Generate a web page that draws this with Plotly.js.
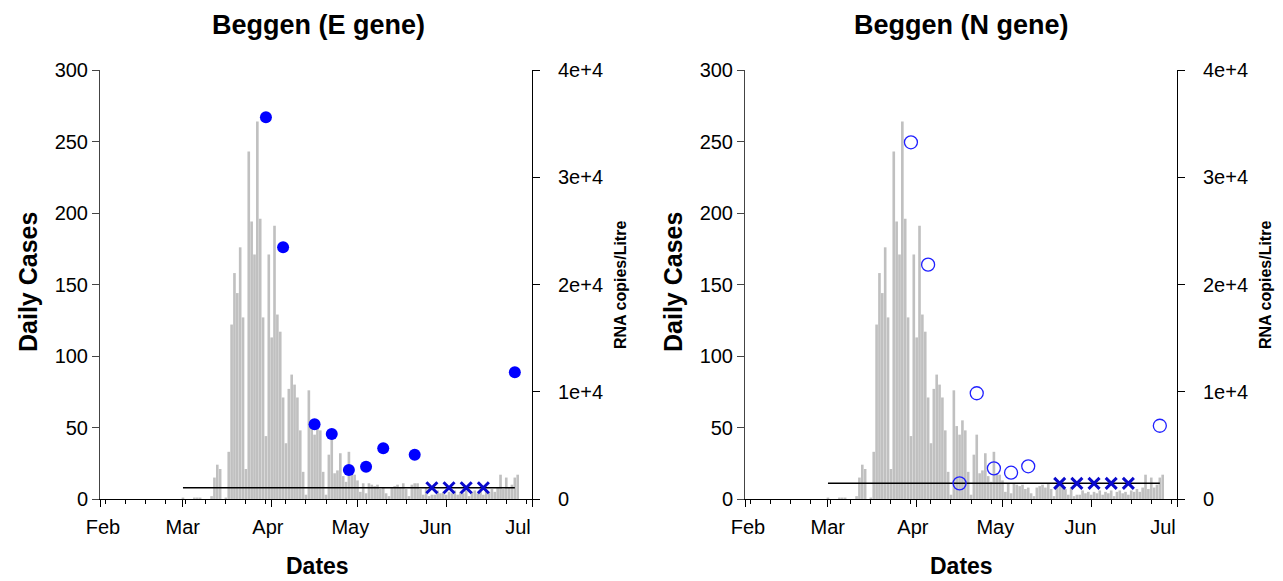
<!DOCTYPE html>
<html>
<head>
<meta charset="utf-8">
<script src="https://cdn.plot.ly/plotly-3.0.1.min.js"></script>
<style>html,body{margin:0;padding:0;background:#fff;}#chart{width:1283px;height:581px;}</style>
</head>
<body>
<div id="chart"></div>
<script>
// ---- data ----
const caseStartDate = '2020-03-01';
const dailyCases = [
  1,0,0,0,1,1,1,0,0,0,2,15,24,21,0,1,33,122,158,144,176,127,21,243,194,171,264,196,127,44,
  171,113,191,129,117,71,39,77,87,80,71,48,19,3,76,51,45,55,48,19,3,31,45,18,20,32,
  16,12,33,18,17,13,5,11,4,11,10,9,10,7,8,4,2,8,9,10,8,11,7,2,10,11,11,7,3,8,2,3,3,6,
  4,5,3,5,4,6,3,5,4,6,2,5,6,4,5,3,6,5,7,5,8,17,7,15,8,10,15,17
];
const monthTicks = ['2020-02-01','2020-03-01','2020-04-01','2020-05-01','2020-06-01','2020-07-01'];
const monthLabels = ['Feb','Mar','Apr','May','Jun','Jul'];
const caseTicks = [0,50,100,150,200,250,300];
const rnaTicks = [0,10000,20000,30000,40000];
const rnaTickLabels = ['0','1e+4','2e+4','3e+4','4e+4'];

const eDetDates = ['2020-03-30','2020-04-05','2020-04-16','2020-04-22','2020-04-28','2020-05-04','2020-05-10','2020-05-21','2020-06-25'];
const eDetValues = [35600,23470,6960,6060,2700,3010,4730,4130,11810];
const eNdDates = ['2020-05-27','2020-06-02','2020-06-08','2020-06-14'];
const eNdValues = [1050,1050,1050,1050];
const eLodDates = ['2020-03-01','2020-06-25'];
const eLodValues = [1050,1050];

const nDetDates = ['2020-03-30','2020-04-05','2020-04-16','2020-04-22','2020-04-28','2020-05-04','2020-05-10','2020-06-25'];
const nDetValues = [33260,21850,1460,9860,2860,2450,3050,6830];
const nNdDates = ['2020-05-21','2020-05-27','2020-06-02','2020-06-08','2020-06-14'];
const nNdValues = [1460,1460,1460,1460,1460];
const nLodDates = ['2020-03-01','2020-06-25'];
const nLodValues = [1460,1460];

// ---- build ----
const caseDates = dailyCases.map((_, i) => {
  const d = new Date(caseStartDate + 'T00:00:00Z');
  d.setUTCDate(d.getUTCDate() + i);
  return d.toISOString().slice(0, 10);
});

const W = 1283, H = 581;
const px = v => v / W;
const py = v => 1 - v / H;
const FONT = 'Liberation Sans, Arial, sans-serif';
const TICK = 20;

function panel(xa, ya, ya2, xl, detDates, detVals, ndDates, ndVals, lodD, lodV, filled) {
  return [
    {type:'bar', x: caseDates, y: dailyCases, xaxis: xa, yaxis: ya,
     marker:{color:'#c0c0c0', line:{width:0}}, hoverinfo:'skip'},
    {type:'scatter', mode:'lines', x: lodD, y: lodV, xaxis: xa, yaxis: ya2,
     line:{color:'#000', width:1.5}, hoverinfo:'skip'},
    {type:'scatter', mode:'markers', x: detDates, y: detVals, xaxis: xa, yaxis: ya2,
     marker: filled ? {color:'#0000ff', size:12, line:{width:0}}
                    : {color:'#2020ff', size:13, symbol:'circle-open', line:{color:'#2020ff', width:1.3}}},
    {type:'scatter', mode:'markers', x: ndDates, y: ndVals, xaxis: xa, yaxis: ya2,
     marker:{symbol:'x-thin', size:11, color:'#0a0acc', line:{color:'#0a0acc', width:3}}},
    {type:'scatter', mode:'markers', x: monthTicks, y: monthTicks.map(()=>0), xaxis: xl, yaxis: ya,
     marker:{opacity:0}, hoverinfo:'skip'}
  ];
}

const data = [].concat(
  panel('x','y','y2','x3', eDetDates, eDetValues, eNdDates, eNdValues, eLodDates, eLodValues, true),
  panel('x2','y3','y4','x4', nDetDates, nDetValues, nNdDates, nNdValues, nLodDates, nLodValues, false)
);

const yDom = [py(499), py(70)];
function dataX(dom, anchor) {
  return {domain: dom, anchor: anchor, type:'date', range:['2020-02-01','2020-07-01'],
    showgrid:false, zeroline:false, showline:true, linecolor:'#000', linewidth:1,
    tickvals: monthTicks, ticks:'outside', ticklen:7, tickcolor:'#000', showticklabels:false,
    minor:{ticks:'outside', ticklen:4, tickcolor:'#000', dtick:7*86400000, tick0:'2020-02-03'}};
}
function labelX(over, anchor) {
  return {overlaying: over, anchor: anchor, type:'date',
    range:['2020-01-30 21:50','2020-07-06 02:30'],
    showgrid:false, zeroline:false, showline:false,
    tickvals: monthTicks, ticktext: monthLabels, ticks:'outside', ticklen:10, tickcolor:'rgba(0,0,0,0)',
    tickfont:{family:FONT, size:TICK, color:'#000'}};
}
function leftY(dom, anchor) {
  return {domain: dom, anchor: anchor, range:[0,300], showgrid:false, zeroline:false,
    showline:true, linecolor:'#444', linewidth:1, tickvals: caseTicks, ticks:'outside', ticklen:7,
    tickcolor:'#444', tickfont:{family:FONT, size:TICK, color:'#000'}};
}
function rightY(over, anchor) {
  return {overlaying: over, anchor: anchor, side:'right', range:[0,40000], showgrid:false, zeroline:false,
    showline:true, linecolor:'#000', linewidth:1, tickvals: rnaTicks, ticktext: rnaTickLabels,
    ticks:'outside', ticklen:7, tickcolor:'#000', ticklabelstandoff:14,
    tickfont:{family:FONT, size:TICK, color:'#000'}};
}

const dom1 = [px(100), px(532)];
const dom2 = [px(745), px(1177)];

function ann(text, x, y, size, angle) {
  return {text: '<b>' + text + '</b>', x: px(x), y: py(y), xref:'paper', yref:'paper',
    showarrow:false, textangle: angle || 0, xanchor:'center', yanchor:'middle',
    font:{family:FONT, size:size, color:'#000'}};
}

const layout = {
  width: W, height: H, margin:{l:0,r:0,t:0,b:0},
  paper_bgcolor:'#fff', plot_bgcolor:'rgba(0,0,0,0)',
  showlegend:false, bargap:0.08,
  xaxis: dataX(dom1, 'y'),
  xaxis2: dataX(dom2, 'y3'),
  xaxis3: labelX('x', 'y'),
  xaxis4: labelX('x2', 'y3'),
  yaxis: leftY(yDom, 'x'),
  yaxis2: rightY('y', 'x'),
  yaxis3: leftY(yDom, 'x2'),
  yaxis4: rightY('y3', 'x2'),
  annotations: [
    ann('Beggen (E gene)', 318, 25, 27),
    ann('Beggen (N gene)', 962, 25, 27),
    ann('Daily Cases', 28, 282, 25, -90),
    ann('Daily Cases', 673, 282, 25, -90),
    ann('Dates', 317, 566, 23),
    ann('Dates', 962, 566, 23),
    ann('RNA copies/Litre', 620, 285, 16, -90),
    ann('RNA copies/Litre', 1265, 285, 16, -90)
  ]
};

Plotly.newPlot('chart', data, layout, {staticPlot:true, displayModeBar:false});
</script>
</body>
</html>
